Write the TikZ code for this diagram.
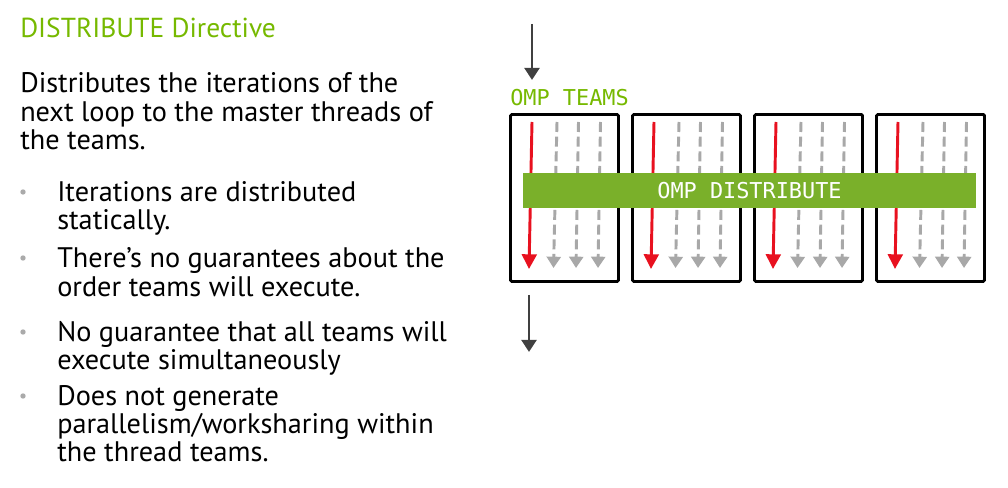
\documentclass[tikz,border=0pt]{standalone}
\usepackage{fontspec}
\setmainfont{PT Sans}
\setmonofont{DejaVu Sans Mono}
\usetikzlibrary{arrows.meta, calc, positioning}
\definecolor{nvgreen}{RGB}{118,185,0}
\definecolor{bargreen}{RGB}{122,176,42}
\definecolor{threadred}{RGB}{232,17,31}
\definecolor{threadgray}{RGB}{168,168,168}
\definecolor{flowgray}{RGB}{64,64,64}
\definecolor{dotgray}{RGB}{170,170,170}

\begin{document}
\begin{tikzpicture}[x=0.75pt, y=-0.75pt,
    txt/.style={anchor=base west, inner sep=0pt, font=\fontsize{21.2}{24}\selectfont},
    dotmark/.style={circle, fill=dotgray, inner sep=0pt, minimum size=4pt},
    teambox/.style={draw=black, line width=2.2pt, rounded corners=1pt,
        minimum width=81pt, minimum height=125.25pt, inner sep=0pt},
    flow/.style={draw=flowgray, line width=2.2pt, -{Triangle[width=11pt, length=9pt]}},
    master/.style={draw=threadred, line width=2.2pt, -{Triangle[width=11pt, length=11pt]}},
    worker/.style={draw=threadgray, line width=2.2pt, dash pattern=on 7.5pt off 3.5pt,
        -{Triangle[width=10.5pt, length=8.5pt]}}]
    \useasboundingbox (0,0) rectangle (1008,488);

    % Left column: title and text
    \node[txt, text=nvgreen, font=\fontsize{20.6}{24}\selectfont] (title) at (20,38) {DISTRIBUTE Directive};
    \node[txt] (introa) at (20,93) {Distributes the iterations of the};
    \node[txt] (introb) at (20,121.5) {next loop to the master threads of};
    \node[txt] (introc) at (20,150) {the teams.};

    \node[dotmark] (dota) at (23,192) {};
    \node[txt] (itema) at (57,202) {Iterations are distributed};
    \node[txt] (itemaa) at (57,230) {statically.};
    \node[dotmark] (dotb) at (23,258) {};
    \node[txt] (itemb) at (57,268) {There’s no guarantees about the};
    \node[txt] (itembb) at (57,297) {order teams will execute.};
    \node[dotmark] (dotc) at (23,332) {};
    \node[txt] (itemc) at (57,342) {No guarantee that all teams will};
    \node[txt] (itemcc) at (57,370) {execute simultaneously};
    \node[dotmark] (dotd) at (23,396) {};
    \node[txt] (itemd) at (57,406) {Does not generate};
    \node[txt] (itemdd) at (57,434) {parallelism/worksharing within};
    \node[txt] (itemddd) at (57,462) {the thread teams.};

    % Right column: teams and threads
    \node[anchor=base west, inner sep=0pt, text=nvgreen,
        font=\fontsize{16.4}{18}\ttfamily] (teams) at (510,106) {OMP TEAMS};
    \coordinate (start) at (532,24);
    \draw[flow] (start) -- (532,80);

    \foreach \i in {1,...,4} {
        \node[teambox] (team\i) at (564.5+122*\i-122,198) {};
        \draw[master] ($(team\i.center)+(-32.5,-76)$) -- ($(team\i.center)+(-35.5,71)$);
        \draw[worker] ($(team\i.center)+(-7.5,-76)$) -- ($(team\i.center)+(-11,70)$);
        \draw[worker] ($(team\i.center)+(14,-76)$) -- ($(team\i.center)+(11.5,70)$);
        \draw[worker] ($(team\i.center)+(36,-76)$) -- ($(team\i.center)+(33.5,70)$);
    }

    \node[fill=bargreen, text=white, inner sep=0pt, minimum width=339.75pt,
        minimum height=26.25pt, font=\fontsize{16.4}{18}\ttfamily] (distribute)
        at (749.5,190.5) {OMP DISTRIBUTE};

    \coordinate (finish) at (529,352);
    \draw[flow] (529,295) -- (finish);
\end{tikzpicture}
\end{document}
